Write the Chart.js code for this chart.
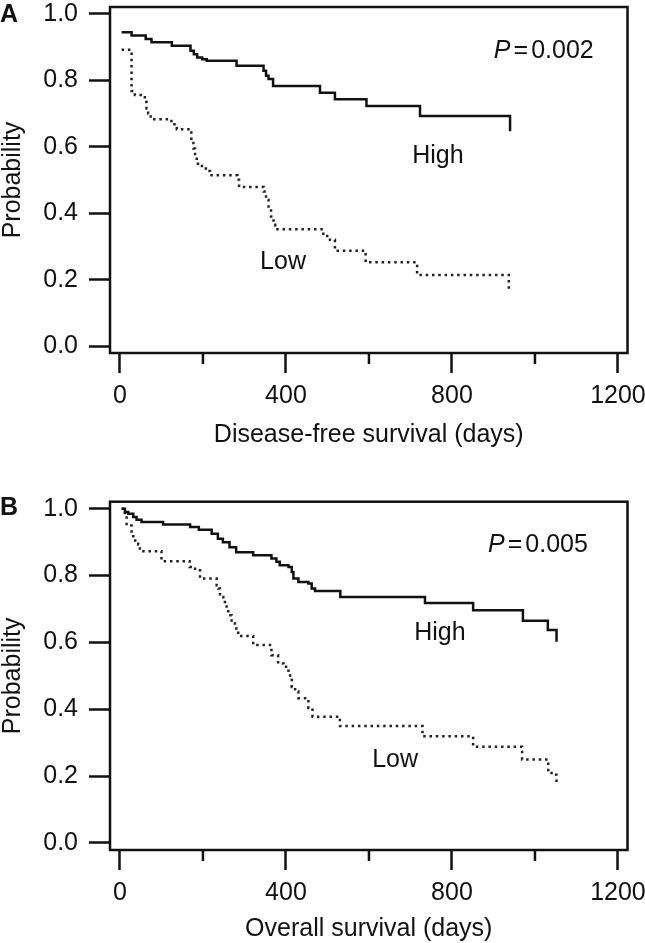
<!DOCTYPE html>
<html>
<head>
<meta charset="utf-8">
<script src="https://cdn.jsdelivr.net/npm/chart.js@4.4.1/dist/chart.umd.min.js"></script>
<style>
  html, body { margin: 0; padding: 0; background: #fff; }
  #wrap { position: relative; width: 645px; height: 943px; overflow: hidden; }
  canvas { position: absolute; left: 0; }
  #chartA { top: 0; }
  #chartB { top: 470px; }
</style>
</head>
<body>
<div id="wrap">
  <canvas id="chartA" width="645" height="470"></canvas>
  <canvas id="chartB" width="645" height="473"></canvas>
</div>
<script>
// Kaplan-Meier steps: the curve drops to prob[i] at days[i]

// A - disease-free survival
var dfsHighDays = [4, 28, 62, 76, 125, 170, 178, 186, 198, 209, 281, 346, 352, 358, 369, 482, 518, 594, 723, 940];
var dfsHighProb = [0.945, 0.935, 0.925, 0.915, 0.904, 0.889, 0.879, 0.869, 0.864, 0.859, 0.844, 0.829, 0.814, 0.804, 0.783, 0.763, 0.743, 0.723, 0.693, 0.647];
var dfsLowDays = [4, 28, 36, 60, 64, 68, 74, 124, 137, 168, 172, 177, 181, 185, 188, 207, 217, 283, 287, 346, 352, 358, 364, 370, 374, 490, 506, 518, 592, 716, 937];
var dfsLowProb = [0.892, 0.768, 0.756, 0.735, 0.715, 0.700, 0.683, 0.668, 0.653, 0.647, 0.62, 0.595, 0.57, 0.555, 0.542, 0.527, 0.514, 0.501, 0.479, 0.465, 0.44, 0.415, 0.39, 0.365, 0.352, 0.331, 0.320, 0.287, 0.252, 0.214, 0.164];

// B - overall survival
var osHighDays = [4, 12, 20, 32, 40, 52, 104, 169, 190, 221, 236, 248, 264, 280, 321, 365, 377, 385, 406, 414, 418, 430, 454, 462, 470, 531, 735, 851, 971, 1031, 1052];
var osHighProb = [1.0, 0.990, 0.985, 0.975, 0.967, 0.960, 0.953, 0.945, 0.937, 0.925, 0.910, 0.900, 0.885, 0.870, 0.861, 0.851, 0.841, 0.831, 0.826, 0.811, 0.791, 0.781, 0.776, 0.761, 0.754, 0.736, 0.718, 0.696, 0.665, 0.637, 0.602];
var osLowDays = [4, 12, 16, 28, 32, 44, 48, 100, 168, 181, 193, 233, 237, 241, 249, 257, 261, 269, 277, 285, 321, 365, 381, 394, 406, 410, 414, 422, 430, 450, 454, 464, 530, 729, 851, 969, 1032, 1040, 1052];
var osLowProb = [1.0, 0.980, 0.950, 0.925, 0.905, 0.893, 0.873, 0.843, 0.826, 0.816, 0.791, 0.771, 0.761, 0.736, 0.721, 0.701, 0.681, 0.661, 0.642, 0.619, 0.592, 0.562, 0.537, 0.527, 0.507, 0.493, 0.467, 0.453, 0.433, 0.428, 0.404, 0.378, 0.350, 0.319, 0.288, 0.250, 0.214, 0.204, 0.174];

var xTicks = [0, 200, 400, 600, 800, 1000, 1200];
var xLabelled = [0, 400, 800, 1200];
var yTicks = [0, 0.2, 0.4, 0.6, 0.8, 1.0];

var INK = '#111';
var FAMILY = '"Liberation Sans", Arial, Helvetica, sans-serif';
var FONT = { family: FAMILY, size: 25 };

function toPoints(days, prob) {
    return days.map(function (d, i) { return { x: d, y: prob[i] }; });
}

function notesPlugin(p) {
    return {
        id: 'notes' + p.letter,
        afterDraw: function (chart) {
            var a = chart.chartArea, ctx = chart.ctx;
            var xs = chart.scales.x, ys = chart.scales.y;
            ctx.save();
            ctx.strokeStyle = INK;
            ctx.lineWidth = 2.5;
            ctx.strokeRect(a.left, a.top, a.right - a.left, a.bottom - a.top);

            // short unlabelled ticks
            ctx.beginPath();
            xTicks.forEach(function (v) {
                if (xLabelled.indexOf(v) >= 0) return;
                var px = xs.getPixelForValue(v);
                ctx.moveTo(px, a.bottom);
                ctx.lineTo(px, a.bottom + 11);
            });
            ctx.stroke();

            ctx.fillStyle = INK;
            ctx.textBaseline = 'middle';
            ctx.font = '25px ' + FAMILY;
            ctx.textAlign = 'center';
            ctx.fillText('High', xs.getPixelForValue(p.high[0]), ys.getPixelForValue(p.high[1]));
            ctx.fillText('Low', xs.getPixelForValue(p.low[0]), ys.getPixelForValue(p.low[1]));

            // P value
            ctx.textAlign = 'left';
            var px0 = xs.getPixelForValue(p.pAt[0]), py0 = ys.getPixelForValue(p.pAt[1]);
            ctx.font = 'italic 25px ' + FAMILY;
            ctx.fillText('P', px0, py0);
            var w = ctx.measureText('P').width;
            ctx.font = '25px ' + FAMILY;
            ctx.fillText('=', px0 + w + 3, py0);
            var w2 = ctx.measureText('=').width;
            ctx.fillText(p.pText, px0 + w + w2 + 6, py0);

            // panel letter
            ctx.font = 'bold 25px ' + FAMILY;
            ctx.fillText(p.letter, 0, p.letterY);
            ctx.restore();
        }
    };
}

function makeChart(id, p) {
    return new Chart(document.getElementById(id), {
        type: 'line',
        data: {
            datasets: [{
                label: 'High',
                data: toPoints(p.highDays, p.highProb),
                borderColor: INK,
                borderWidth: 2.5,
                stepped: true,
                pointRadius: 0,
                fill: false
            }, {
                label: 'Low',
                data: toPoints(p.lowDays, p.lowProb),
                borderColor: '#222',
                borderWidth: 2.5,
                borderDash: [2.5, 3.8],
                stepped: true,
                pointRadius: 0,
                fill: false
            }]
        },
        options: {
            responsive: false,
            animation: false,
            events: [],
            layout: { padding: { left: 0, right: 17.5, top: p.top, bottom: 0 } },
            plugins: { legend: { display: false }, tooltip: { enabled: false } },
            scales: {
                x: {
                    type: 'linear',
                    min: -24,
                    max: 1223,
                    afterBuildTicks: function (s) { s.ticks = xTicks.map(function (v) { return { value: v }; }); },
                    afterFit: function (s) { s.height = p.xAxisHeight; s.paddingLeft = 0; s.paddingRight = 0; },
                    ticks: {
                        autoSkip: false,
                        maxRotation: 0,
                        padding: 8,
                        color: INK,
                        font: FONT,
                        callback: function (v) { return xLabelled.indexOf(v) >= 0 ? String(v) : ''; }
                    },
                    grid: {
                        drawOnChartArea: false,
                        tickLength: 20,
                        tickWidth: 2.5,
                        tickColor: function (c) {
                            return c.tick && xLabelled.indexOf(c.tick.value) >= 0 ? INK : 'rgba(0,0,0,0)';
                        }
                    },
                    border: { display: false },
                    title: { display: true, text: p.xTitle, color: INK, font: FONT, padding: { top: 0, bottom: p.titlePad } }
                },
                y: {
                    min: -0.021,
                    max: 1.021,
                    afterBuildTicks: function (s) { s.ticks = yTicks.map(function (v) { return { value: v }; }); },
                    afterFit: function (s) { s.width = 110; s.paddingTop = 0; s.paddingBottom = 0; },
                    ticks: {
                        padding: 11,
                        color: INK,
                        font: FONT,
                        callback: function (v) { return v.toFixed(1); }
                    },
                    grid: { drawOnChartArea: false, tickLength: 21, tickWidth: 2.5, tickColor: INK },
                    border: { display: false },
                    title: { display: true, text: 'Probability', color: INK, font: FONT, padding: { top: -2, bottom: 0 } }
                }
            }
        },
        plugins: [notesPlugin(p)]
    });
}

makeChart('chartA', {
    letter: 'A', letterY: 15, top: 7, xAxisHeight: 117, titlePad: 20,
    xTitle: 'Disease-free survival (days)',
    highDays: dfsHighDays, highProb: dfsHighProb,
    lowDays: dfsLowDays, lowProb: dfsLowProb,
    high: [766, 0.571], low: [393, 0.254], pAt: [901, 0.888], pText: '0.002'
});

makeChart('chartB', {
    letter: 'B', letterY: 38, top: 31.7, xAxisHeight: 93, titlePad: -1,
    xTitle: 'Overall survival (days)',
    highDays: osHighDays, highProb: osHighProb,
    lowDays: osLowDays, lowProb: osLowProb,
    high: [771, 0.628], low: [663, 0.249], pAt: [887, 0.890], pText: '0.005'
});
</script>
</body>
</html>
